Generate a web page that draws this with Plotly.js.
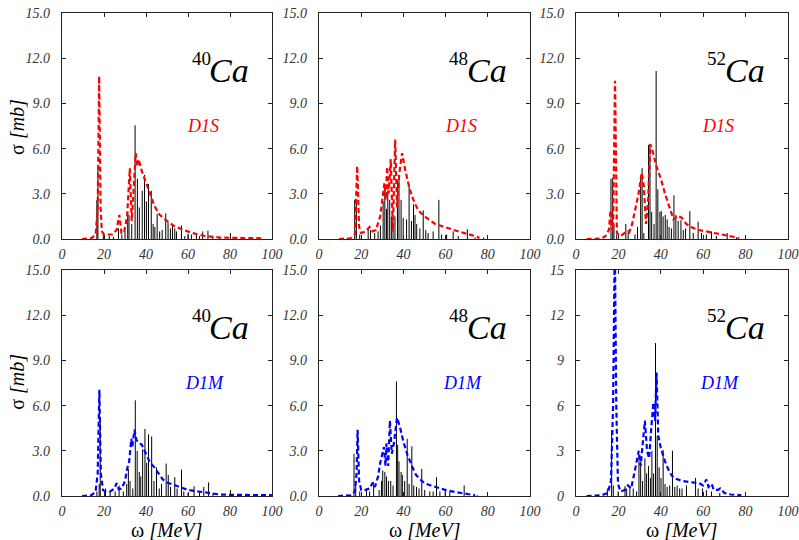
<!DOCTYPE html>
<html><head><meta charset="utf-8">
<script src="https://cdn.plot.ly/plotly-3.0.1.min.js"></script>
<style>body{margin:0;background:#fff}</style>
</head><body>
<div id="chart" style="width:799px;height:540px"></div>
<script>
// ---------- DATA ----------
const nuclei = ["40", "48", "52", "40", "48", "52"];
const forceLabels = ["D1S", "D1S", "D1S", "D1M", "D1M", "D1M"];
const yTickVals = [0, 3, 6, 9, 12, 15];
const yTickTextDec = ["0.0", "3.0", "6.0", "9.0", "12.0", "15.0"];
const yTickTextInt = ["0", "3", "6", "9", "12", "15"];
const xTickVals = [0, 20, 40, 60, 80, 100];

// Stick spectra (energy in MeV, strength in mb)
const stickE1 = [16.6,17.1,19.7,22.5,24.5,26.9,28.5,30.0,31.3,31.9,33.2,34.8,35.9,36.8,38.2,39.3,40.2,41.2,42.5,43.4,44.2,45.3,46.5,47.7,49.4,50.5,51.6,52.6,53.7,54.5,56.9,58.5,60.0,61.6,64.0,65.5,67.0,69.5,71.8,75.0,80.2];
const stickH1 = [2.58,4.8,0.4,0.2,0.15,0.7,0.3,0.5,1.8,1.6,1.0,7.55,4.0,2.1,3.2,4.25,2.5,3.65,3.2,1.0,0.8,1.65,0.5,0.6,1.7,1.1,0.7,0.9,0.7,0.5,0.9,0.2,0.35,0.3,0.35,0.2,0.5,0.55,0.2,0.1,0.4];

const stickE2 = [16.9,17.7,19.3,23.3,24.4,26.4,28.0,29.1,30.4,31.2,32.0,32.6,33.5,34.3,35.1,36.0,37.2,37.9,38.9,39.9,41.5,42.7,43.8,44.8,45.5,46.3,47.8,49.4,50.6,51.7,54.1,56.8,58.1,60.5,63.6,66.0,70.3,74.0,78.0];
const stickH2 = [2.6,2.5,0.3,0.7,0.6,0.4,0.5,0.9,2.5,3.5,2.0,3.2,2.6,1.5,0.6,1.5,3.9,4.0,2.6,1.4,1.3,3.55,1.2,2.3,1.6,1.0,0.7,1.9,0.6,0.4,0.5,2.6,0.3,0.3,0.5,0.2,0.65,0.1,0.1];

const stickE3 = [16.5,17.3,17.9,19.2,23.5,24.6,27.8,29.0,30.5,31.2,32.0,34.2,34.9,35.7,36.8,37.8,38.6,39.6,40.2,41.1,42.1,43.0,43.9,45.0,46.2,47.1,48.2,49.5,50.6,51.7,53.7,55.3,57.6,59.2,61.5,63.9,66.2,71.3,75.7];
const stickH3 = [4.0,4.05,1.0,0.3,1.0,0.6,0.3,0.8,4.0,4.7,0.4,6.25,6.25,1.8,1.0,11.15,3.3,1.8,1.85,1.5,1.6,1.3,0.8,0.7,2.9,1.6,1.2,1.25,0.6,0.7,1.85,0.4,1.15,0.4,0.3,0.5,0.2,0.4,0.1];

const stickE4 = [16.6,17.7,18.2,20.7,22.9,25.3,27.2,29.2,30.8,31.6,32.4,33.7,34.9,35.8,36.8,37.5,38.4,39.5,40.3,41.2,42.7,43.8,45.0,46.3,47.4,49.6,50.6,51.7,53.7,54.8,56.9,58.0,60.0,62.9,65.5,67.5,69.8,71.9,80.2];
const stickH4 = [0.3,0.8,5.2,0.5,0.3,0.3,0.7,0.3,0.8,1.8,1.0,0.5,6.35,3.0,1.6,1.3,3.1,4.45,2.2,4.1,3.95,1.0,1.9,0.5,0.8,2.15,1.4,0.6,1.25,0.5,1.75,0.3,0.2,0.65,0.3,0.6,0.9,0.2,0.4];

const stickE5 = [16.6,17.4,19.3,22.5,24.0,25.9,28.5,29.6,30.2,31.2,32.0,32.9,34.0,35.1,36.7,37.3,37.9,38.9,39.5,40.6,41.8,42.7,44.0,44.9,46.2,47.4,48.7,50.1,52.5,54.1,55.7,57.3,59.8,62.0,68.8,75.0];
const stickH5 = [2.8,1.0,0.3,0.5,0.3,0.9,0.4,1.0,1.7,1.6,1.3,1.0,1.0,0.7,7.6,3.4,2.3,1.6,1.4,1.0,3.8,0.8,3.3,0.7,0.6,0.5,1.8,0.4,0.3,0.3,1.25,0.3,0.4,0.3,0.7,0.05];

const stickE6 = [14.8,16.8,17.6,19.9,23.1,23.9,25.4,27.0,28.6,29.7,30.5,31.4,32.5,33.3,34.2,35.1,35.8,36.6,37.5,38.3,39.2,40.1,41.1,42.0,43.0,44.2,45.5,46.6,47.7,48.9,50.0,52.1,56.4,57.6,59.7,61.5,63.9,67.8];
const stickH6 = [0.5,4.35,0.7,0.3,0.65,0.5,0.6,0.5,0.3,2.7,2.3,1.0,2.5,1.5,2.0,1.2,3.0,1.5,10.15,4.0,1.9,1.2,3.05,0.8,0.6,0.7,3.0,0.6,0.7,0.5,0.5,0.7,1.2,0.5,0.5,0.4,0.3,0.2];

// Smoothed (folded) responses
const curveE1 = [9.5,14,16,17,17.7,18.4,19,20,24,26,27.3,28.3,29.5,31,32.3,33.2,34,35.1,35.8,36.5,38,40,42,44,46.5,50,53,57,62,68,75,80,95];
const curveS1 = [0,0.05,0.3,2,10.8,2,0.5,0.3,0.3,0.6,1.6,0.4,0.4,1.5,4.7,1.2,3,5.7,4.8,5.3,4.5,3.8,3.0,2.2,1.6,1.2,0.9,0.65,0.4,0.2,0.1,0.08,0.05];

const curveE2 = [9.5,15,17,18.1,19,20,22,24,25.5,27,29,30,31,31.6,32.3,33,34,35,36.1,37,38,39.4,41,43,45,47,50,55,60,65,70,75,76];
const curveS2 = [0,0.05,0.3,4.85,0.8,0.4,0.5,0.8,0.5,0.6,1.5,2.5,3.7,2.6,4.8,3.0,5.3,0.5,6.6,2.1,4.3,5.7,4.5,3.3,2.5,1.9,1.5,1.0,0.75,0.55,0.35,0.15,0.05];

const curveE3 = [5,12,14,15.5,16.3,16.8,17.5,18.4,19.3,21,23,25,26.5,28,29.5,31,32,33,34,35,36,38,40,42,44,46,48,50,52,55,58,62,66,70,74,77];
const curveS3 = [0,0.03,0.2,0.6,1.9,0.8,0.5,10.5,0.4,0.2,0.4,0.4,1.0,1.9,3.0,4.4,3.5,1.0,2.5,6.3,5.9,4.8,4.0,3.0,2.1,1.3,1.55,1.4,1.0,0.75,0.6,0.5,0.35,0.25,0.15,0.05];

const curveE4 = [9.5,14,16,17,17.8,18.5,19.5,21,23,25,26,27,28.5,30,31,32,33,33.5,34.5,35.5,37,38,40,42,44,46,48,50,53,56,60,65,70,75,80,100];
const curveS4 = [0,0.05,0.3,1.5,7.05,1.5,0.4,0.3,0.3,0.5,0.85,0.45,0.5,1.0,1.8,2.3,3.8,3.3,4.4,3.7,3.5,3.4,2.8,2.2,1.9,1.5,1.1,0.9,0.75,0.6,0.4,0.3,0.2,0.1,0.08,0.05];

const curveE5 = [9,15,17,17.8,18.3,19,20,22,24,25.5,26.5,28,29,30,30.8,31.5,32,32.8,33.6,34.5,35.5,37,38.5,40,42,44,46,48,50,53,56,60,65,70,74];
const curveS5 = [0,0.05,0.3,1.5,4.4,1.0,0.4,0.4,0.5,0.9,0.6,1.3,2.2,2.8,3.25,2.0,3.5,2.0,5.0,2.8,3.5,5.2,4.5,3.6,2.7,2.0,1.4,1.1,0.85,0.7,0.55,0.4,0.25,0.15,0.05];

const curveE6 = [5,12,15,16.5,17.5,18.3,19,19.8,21,23,24.5,26,27.5,29,29.6,30.5,31.5,32.5,33.5,34.5,35.5,36.5,37.3,38,38.8,40,42,44,46,50,55,58,60,61.5,62.5,64,65,67,68,70,73,78];
const curveS6 = [0,0.05,0.2,1.0,6,17,6,0.8,0.3,0.4,0.7,0.5,1.5,2.5,3.0,2.0,3.5,5.0,3.0,2.5,4.5,6.2,5.0,8.2,4.0,3.2,2.3,1.6,1.2,1.0,0.9,0.85,0.7,1.1,0.6,0.8,0.4,0.4,0.5,0.2,0.1,0.05];

// ---------- BUILD ----------
const sticksE = [stickE1, stickE2, stickE3, stickE4, stickE5, stickE6];
const sticksH = [stickH1, stickH2, stickH3, stickH4, stickH5, stickH6];
const curvesE = [curveE1, curveE2, curveE3, curveE4, curveE5, curveE6];
const curvesS = [curveS1, curveS2, curveS3, curveS4, curveS5, curveS6];

const xDomains = [[62/799, 272/799], [319/799, 530/799], [576/799, 788/799]];
const yDomains = [[1 - 239/540, 1 - 13/540], [1 - 496/540, 1 - 270/540]];

const traces = [];
const layout = {
  width: 799, height: 540,
  margin: {l: 0, r: 0, t: 0, b: 0},
  paper_bgcolor: "#fff", plot_bgcolor: "#fff",
  showlegend: false,
  annotations: [],
  font: {family: "Liberation Serif, serif", color: "#000"}
};

for (let i = 0; i < 6; i++) {
  const row = i < 3 ? 0 : 1;
  const col = i % 3;
  const sfx = i === 0 ? "" : String(i + 1);
  const xa = "x" + sfx, ya = "y" + sfx;
  // sticks
  const sx = [], sy = [];
  sticksE[i].forEach((e, k) => { sx.push(e, e, null); sy.push(0, sticksH[i][k], null); });
  traces.push({x: sx, y: sy, xaxis: xa, yaxis: ya, mode: "lines", type: "scatter",
    line: {color: "#000", width: 1}, hoverinfo: "skip"});
  // curve
  const col_ = row === 0 ? "#ff0000" : "#0000ff";
  traces.push({x: curvesE[i], y: curvesS[i], xaxis: xa, yaxis: ya, mode: "lines", type: "scatter",
    line: {color: col_, width: 2.2, dash: "5px,3px"}, hoverinfo: "skip"});

  const axCommon = {
    showline: true, linecolor: "#222", linewidth: 1.2, mirror: "ticks",
    ticks: "inside", ticklen: 4, tickcolor: "#222", showgrid: false, zeroline: false,
    tickfont: {family: "Liberation Serif, serif", size: 14, color: "#333", style: "italic"},
    fixedrange: true
  };
  layout["xaxis" + sfx] = Object.assign({}, axCommon, {
    domain: xDomains[col], anchor: ya, range: [0, 100],
    tickvals: xTickVals, ticktext: xTickVals.map(String), ticklabelstandoff: 2
  });
  layout["yaxis" + sfx] = Object.assign({}, axCommon, {
    domain: yDomains[row], anchor: xa, range: [0, 15],
    tickvals: yTickVals, ticktext: i === 5 ? yTickTextInt : yTickTextDec, ticklabelstandoff: 8
  });

  // nucleus label: mass number (superscript) + "Ca"
  layout.annotations.push({
    xref: xa + " domain", yref: ya + " domain", x: 0.9, y: 0.745,
    xanchor: "right", yanchor: "middle", showarrow: false,
    text: "<i>Ca</i>",
    font: {family: "Liberation Serif, serif", size: 34, color: "#000"}
  });
  layout.annotations.push({
    xref: xa + " domain", yref: ya + " domain", x: 0.662, y: 0.80,
    xanchor: "center", yanchor: "middle", showarrow: false,
    text: nuclei[i],
    font: {family: "Liberation Serif, serif", size: 19, color: "#000"}
  });
  layout.annotations.push({
    xref: xa + " domain", yref: ya + " domain", x: row === 0 ? 0.672 : 0.679, y: 0.5,
    xanchor: "center", yanchor: "middle", showarrow: false,
    text: "<i>" + forceLabels[i] + "</i>",
    font: {family: "Liberation Serif, serif", size: 18, color: col_}
  });
}

// axis titles
[0.765, 0.293].forEach(yy => layout.annotations.push({
  xref: "paper", yref: "paper", x: 17/799, y: yy, xanchor: "center", yanchor: "middle",
  showarrow: false, textangle: -90, text: "σ <i>[mb]</i>",
  font: {family: "Liberation Serif, serif", size: 20, color: "#000"}
}));
xDomains.forEach(d => layout.annotations.push({
  xref: "paper", yref: "paper", x: (d[0] + d[1]) / 2, y: 1 - 530/540, xanchor: "center", yanchor: "middle",
  showarrow: false, text: "ω <i>[MeV]</i>",
  font: {family: "Liberation Serif, serif", size: 20, color: "#000"}
}));

Plotly.newPlot("chart", traces, layout, {displayModeBar: false, staticPlot: true});
</script>
</body></html>
